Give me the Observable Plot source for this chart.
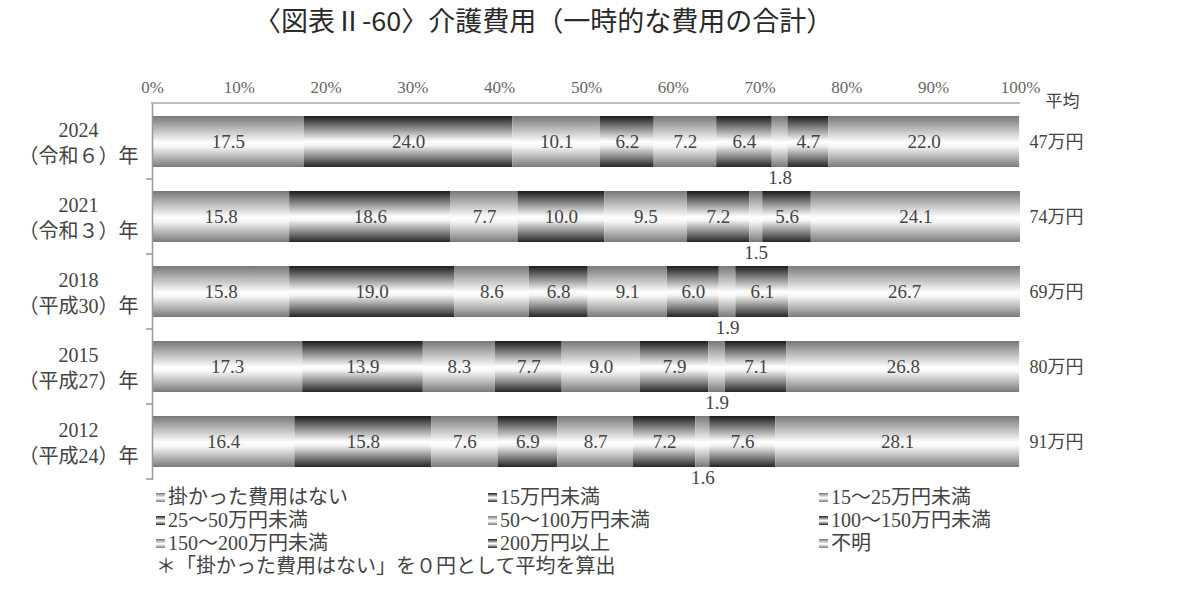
<!DOCTYPE html>
<html><head><meta charset="utf-8">
<script src="https://cdn.jsdelivr.net/npm/d3@7"></script>
<script src="https://cdn.jsdelivr.net/npm/@observablehq/plot@0.6"></script>
<style>
body{margin:0;background:#fff;width:1200px;height:603px;overflow:hidden;font-family:"Liberation Serif","Noto Sans CJK JP",serif;color:#444;}
#title{height:50px;position:relative;}
#title span{position:absolute;left:254px;top:0px;font-family:"Noto Sans CJK JP",sans-serif;font-size:27px;color:#2a2a2a;white-space:nowrap;}
#chart{height:442px;}
#legend{position:relative;height:111px;margin-top:-6px;font-size:20px;color:#444;}
.item{position:absolute;white-space:nowrap;line-height:23px;height:23px;display:flex;align-items:center;}
.item svg{margin-right:3px;}
</style></head>
<body>
<div id="title"><span>〈図表Ⅱ-60〉介護費用（一時的な費用の合計）</span></div>
<div id="chart"></div>
<div id="legend"></div>
<script>
const years = ["2024","2021","2018","2015","2012"];
const eras = ["（令和６）年","（令和３）年","（平成30）年","（平成27）年","（平成24）年"];
const categories = ["掛かった費用はない","15万円未満","15～25万円未満","25～50万円未満","50～100万円未満","100～150万円未満","150～200万円未満","200万円以上","不明"];
const v2024 = [17.5, 24.0, 10.1, 6.2, 7.2, 6.4, 1.8, 4.7, 22.0];
const v2021 = [15.8, 18.6, 7.7, 10.0, 9.5, 7.2, 1.5, 5.6, 24.1];
const v2018 = [15.8, 19.0, 8.6, 6.8, 9.1, 6.0, 1.9, 6.1, 26.7];
const v2015 = [17.3, 13.9, 8.3, 7.7, 9.0, 7.9, 1.9, 7.1, 26.8];
const v2012 = [16.4, 15.8, 7.6, 6.9, 8.7, 7.2, 1.6, 7.6, 28.1];
const averages = ["47万円","74万円","69万円","80万円","91万円"];
const tickValues = [0,10,20,30,40,50,60,70,80,90,100];
const averageHeader = "平均";
const note = "＊「掛かった費用はない」を０円として平均を算出";
const smallCategory = "150～200万円未満";
const shades = ["light","dark","light","dark","light","dark","light","dark","light"];

const seriesByYear = [v2024, v2021, v2018, v2015, v2012];
const data = [];
years.forEach((y, i) => categories.forEach((c, j) => data.push({year: y, cat: c, value: seriesByYear[i][j]})));

const gradStops = {
  light: [[0,"#787878"],[0.52,"#ffffff"],[0.6,"#f6f6f6"],[1,"#7a7a7a"]],
  dark:  [[0,"#1c1c1c"],[0.5,"#ffffff"],[0.58,"#f2f2f2"],[1,"#262626"]]
};
function addGradients(defs, prefix) {
  categories.forEach((c, i) => {
    const g = defs.append("linearGradient").attr("id", prefix + i)
      .attr("x1", 0).attr("y1", 0).attr("x2", 0).attr("y2", 1);
    gradStops[shades[i]].forEach(([o, col]) => g.append("stop").attr("offset", o).attr("stop-color", col));
  });
}

const chart = Plot.plot({
  width: 1200, height: 442,
  marginLeft: 152, marginRight: 180, marginTop: 53, marginBottom: 12,
  x: {domain: [0, 100], axis: null},
  y: {domain: years, paddingInner: 0.32, paddingOuter: 0.16, axis: null},
  color: {domain: categories, range: categories.map((c, i) => `url(#grad${i})`)},
  style: {fontFamily: '"Liberation Serif","Noto Sans CJK JP",serif', fontSize: "17px", color: "#444", background: "#fff", overflow: "visible"},
  marks: [
    Plot.barX(data, Plot.stackX({x: "value", y: "year", fill: "cat", z: "cat"})),
    Plot.text(data, Plot.stackX({x: "value", y: "year", z: "cat",
      text: d => d.cat === smallCategory ? "" : d.value.toFixed(1), fill: "#444", fontSize: 19})),
    Plot.text(data, Plot.stackX({x: "value", y: "year", z: "cat",
      text: d => d.cat === smallCategory ? d.value.toFixed(1) : "", dy: 36, fill: "#444", fontSize: 19})),
    Plot.axisX({anchor: "top", ticks: tickValues, tickSize: 0, tickPadding: 11, label: null,
      tickFormat: d => d + "%", fontSize: 17, fill: "#666"}),
    Plot.ruleX([0], {stroke: "#999", strokeWidth: 1.5}),
    Plot.text(years, {x: 0, y: d => d, text: (d, i) => d + "\n" + eras[i], dx: -74,
      textAnchor: "middle", lineHeight: 1.3, fontSize: 20, fill: "#444"}),
    Plot.text(averages, {x: 100, y: (d, i) => years[i], text: d => d, dx: 9,
      textAnchor: "start", fontSize: 18, fill: "#444"}),
    Plot.text([averageHeader], {frameAnchor: "top-right", text: d => d, dx: 25, dy: -9,
      textAnchor: "start", fontSize: 17, fill: "#444"})
  ]
});

const svg = d3.select(chart);
addGradients(svg.insert("defs", ":first-child"), "grad");
// top axis line and left band ticks through the plot's scales
const sx = chart.scale("x"), sy = chart.scale("y");
const frameTop = sy.range[0];
svg.append("line").attr("x1", sx.apply(0) - 1).attr("x2", sx.apply(100))
  .attr("y1", frameTop).attr("y2", frameTop).attr("stroke", "#aaa").attr("stroke-width", 1.5);
years.forEach(y => {
  const yy = sy.apply(y) + sy.bandwidth + (sy.step - sy.bandwidth) / 2;
  svg.append("line").attr("x1", sx.apply(0) - 6).attr("x2", sx.apply(0))
    .attr("y1", yy).attr("y2", yy).attr("stroke", "#999").attr("stroke-width", 1.5);
});
document.getElementById("chart").appendChild(chart);

// legend
const legend = d3.select("#legend");
const colX = [156, 488, 819];
categories.forEach((c, i) => {
  const item = legend.append("div").attr("class", "item")
    .style("left", colX[i % 3] + "px").style("top", (Math.floor(i / 3) * 23) + "px");
  const s = item.append("svg").attr("width", 9).attr("height", 9);
  s.append("rect").attr("width", 9).attr("height", 9).attr("fill", `url(#grad${i})`);
  item.append("span").text(c);
});
legend.append("div").attr("class", "item").style("left", "156px").style("top", "69px").text(note);
</script>
</body></html>
